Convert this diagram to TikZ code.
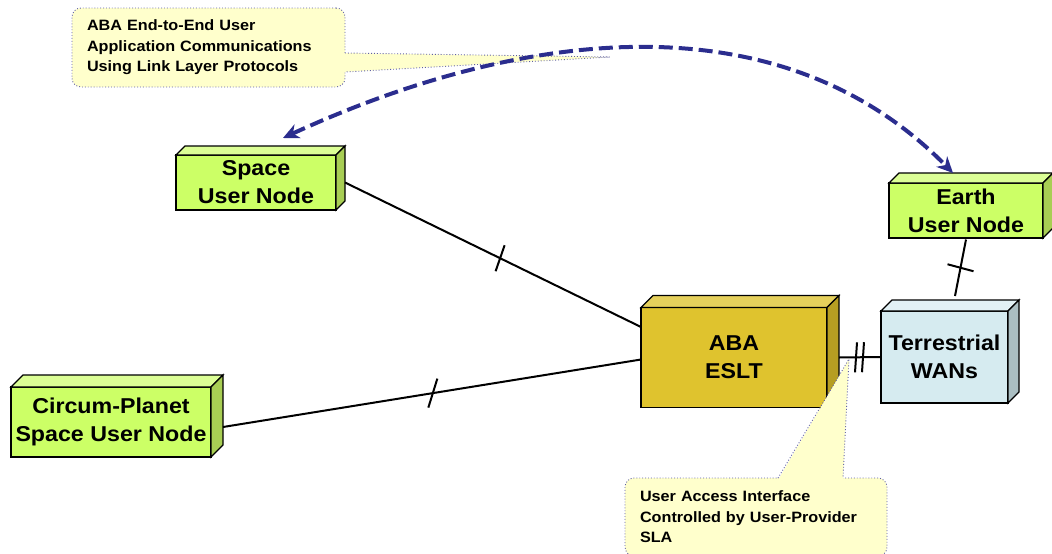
\documentclass[tikz,border=0pt]{standalone}
\usepackage{fontspec}
\setmainfont{Liberation Sans}[FakeStretch=1.08]
\usetikzlibrary{arrows.meta}
\definecolor{grnF}{RGB}{204,255,102}
\definecolor{grnT}{RGB}{220,255,150}
\definecolor{grnS}{RGB}{168,206,84}
\definecolor{golF}{RGB}{223,195,46}
\definecolor{golT}{RGB}{229,208,92}
\definecolor{golS}{RGB}{182,158,34}
\definecolor{wanF}{RGB}{214,235,240}
\definecolor{wanT}{RGB}{226,241,245}
\definecolor{wanS}{RGB}{170,190,194}
\definecolor{noteF}{RGB}{255,255,204}
\definecolor{noteB}{RGB}{95,95,165}
\definecolor{arcC}{RGB}{43,45,142}
\tikzset{
 face/.style={draw=black, line width=1.3pt, line join=miter},
 frontbox/.style={face, rectangle, outer sep=0pt, inner sep=0pt, align=center, font=\bfseries\fontsize{21.5}{28}\selectfont},
 link/.style={draw=black, line width=2pt},
 tickmark/.style={draw=black, line width=2pt},
 note/.style={rectangle, rounded corners=9pt, fill=noteF, draw=noteB, dotted, line width=0.9pt, outer sep=0pt, inner xsep=15pt, align=left, font=\bfseries\fontsize{15}{20.5}\selectfont},
 noteedge/.style={draw=noteB, dotted, line width=0.9pt},
 farlink/.style={draw=arcC, line width=4pt, dash pattern=on 14pt off 6pt, >={Stealth[length=16pt,width=15pt,inset=5pt]}, <->},
}
\newcommand\mycube[4]{%
 \draw[face, fill=#3] (#1.north west) -- ([shift={(#2pt,#2pt)}]#1.north west) -- ([shift={(#2pt,#2pt)}]#1.north east) -- (#1.north east) -- cycle;
 \draw[face, fill=#4] (#1.north east) -- ([shift={(#2pt,#2pt)}]#1.north east) -- ([shift={(#2pt,#2pt)}]#1.south east) -- (#1.south east) -- cycle;}
\begin{document}
\begin{tikzpicture}[x=1pt,y=-1pt]
\useasboundingbox (0,0) rectangle (1052,554);
% boxes
\node[frontbox, fill=grnF, minimum width=160pt, minimum height=55pt] (space) at (256,182.5) {Space\\User Node};
\mycube{space}{9}{grnT}{grnS}
\node[frontbox, fill=grnF, minimum width=154pt, minimum height=55pt] (earth) at (966,210.5) {Earth\\User Node};
\mycube{earth}{10}{grnT}{grnS}
\node[frontbox, fill=golF, minimum width=186pt, minimum height=100pt] (eslt) at (734,357.5) {ABA\\ESLT};
\mycube{eslt}{12}{golT}{golS}
\node[frontbox, fill=wanF, minimum width=127pt, minimum height=92pt] (wan) at (944.5,357) {Terrestrial\\WANs};
\mycube{wan}{11}{wanT}{wanS}
\node[frontbox, fill=grnF, minimum width=200pt, minimum height=70pt] (circ) at (111,422) {Circum-Planet\\Space User Node};
\mycube{circ}{12}{grnT}{grnS}
% connectors
\coordinate (sA) at ([xshift=9pt]space.east);
\coordinate (eA) at ([yshift=30.5pt]eslt.west);
\draw[link] (sA) -- coordinate[pos=0.524] (t1) (eA);
\draw[tickmark] ([shift={(-4.5pt,-13pt)}]t1) -- ([shift={(4.5pt,13pt)}]t1);
\coordinate (sB) at ([shift={(12pt,-5pt)}]circ.east);
\coordinate (eB) at ([yshift=-2pt]eslt.west);
\draw[link] (sB) -- coordinate[pos=0.502] (t2) (eB);
\draw[tickmark] ([shift={(-4.5pt,-14.5pt)}]t2) -- ([shift={(4.5pt,14.5pt)}]t2);
\coordinate (sC) at ([xshift=12pt]eslt.east);
\draw[link] (sC) -- coordinate[pos=0.405] (t3) coordinate[pos=0.571] (t4) (wan.west);
\draw[tickmark] ([shift={(-1pt,-15pt)}]t3) -- ([shift={(1pt,15pt)}]t3);
\draw[tickmark] ([shift={(-1pt,-15pt)}]t4) -- ([shift={(1pt,15pt)}]t4);
\coordinate (sD) at ([yshift=-1.5pt]earth.south);
\coordinate (eD) at ([shift={(10.5pt,15pt)}]wan.north);
\draw[link] (sD) -- coordinate[pos=0.5] (t5) (eD);
\draw[tickmark] ([shift={(-13pt,3.5pt)}]t5) -- ([shift={(13pt,-3.5pt)}]t5);
% callout 2
\node[note, minimum height=78pt, text width=232pt] (c2) at (756,517) {User Access Interface\\Controlled by User-Provider\\SLA};
\coordinate (tip2) at (849,359);
\fill[noteF] ([shift={(153pt,-2pt)}]c2.north west) -- (tip2) -- ([shift={(218pt,-2pt)}]c2.north west) -- cycle;
\draw[noteedge] ([xshift=153pt]c2.north west) -- (tip2) -- ([xshift=218pt]c2.north west);
% callout 1
\node[note, minimum height=79pt, text width=243pt] (c1) at (208.5,47.5) {ABA End-to-End User\\Application Communications\\Using Link Layer Protocols};
\coordinate (tip1) at (610,57);
\fill[noteF] ([shift={(-2pt,-45pt)}]c1.north east) -- (tip1) -- ([shift={(-2pt,-64pt)}]c1.north east) -- cycle;
\draw[noteedge] ([yshift=-45pt]c1.north east) -- (tip1) -- ([yshift=-64pt]c1.north east);
% end-to-end arc
\coordinate (a1) at ([shift={(27pt,17pt)}]space.north);
\coordinate (a2) at ([shift={(-13pt,10pt)}]earth.north);
\draw[farlink] (a1) .. controls (520,29) and (779,-4) .. (a2);
\end{tikzpicture}
\end{document}
